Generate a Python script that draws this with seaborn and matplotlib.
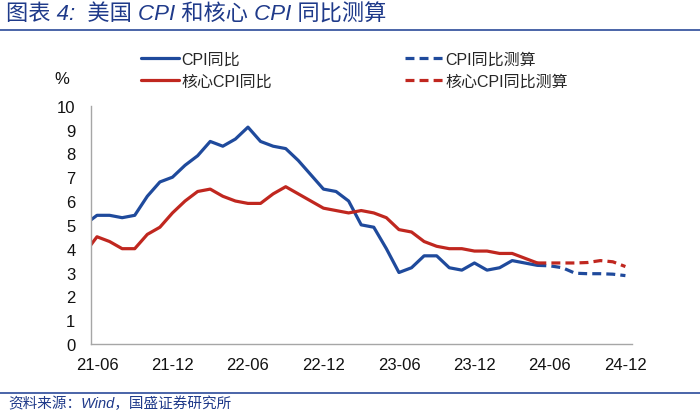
import matplotlib
matplotlib.use("Agg")
import matplotlib.pyplot as plt
from matplotlib.lines import Line2D
import seaborn as sns
import pandas as pd

# ---------------- data ----------------
actual_months = [str(p) for p in pd.period_range("2021-05", "2024-05", freq="M")]
cpi = [5.0, 5.4, 5.4, 5.3, 5.4, 6.2, 6.8, 7.0,
       7.5, 7.9, 8.5, 8.3, 8.6, 9.1, 8.5, 8.3, 8.2, 7.7, 7.1, 6.5,
       6.4, 6.0, 5.0, 4.9, 4.0, 3.0, 3.2, 3.7, 3.7, 3.2, 3.1, 3.4,
       3.1, 3.2, 3.5, 3.4, 3.3]
core = [3.8, 4.5, 4.3, 4.0, 4.0, 4.6, 4.9, 5.5,
        6.0, 6.4, 6.5, 6.2, 6.0, 5.9, 5.9, 6.3, 6.6, 6.3, 6.0, 5.7,
        5.6, 5.5, 5.6, 5.5, 5.3, 4.8, 4.7, 4.3, 4.1, 4.0, 4.0, 3.9,
        3.9, 3.8, 3.8, 3.6, 3.4]
est_months = [str(p) for p in pd.period_range("2024-05", "2024-12", freq="M")]
cpi_est = [3.3, 3.28, 3.2, 2.97, 2.95, 2.95, 2.93, 2.87]
core_est = [3.4, 3.4, 3.4, 3.4, 3.42, 3.5, 3.45, 3.25]
tick_labels = ["21-06", "21-12", "22-06", "22-12", "23-06", "23-12", "24-06", "24-12"]
y_ticks = list(range(0, 11))

title = "图表 4:  美国 CPI 和核心 CPI 同比测算"
source = "资料来源：Wind，国盛证券研究所"
labels = ["CPI同比", "核心CPI同比", "CPI同比测算", "核心CPI同比测算"]

# ---------------- style ----------------
sns.set_theme(style="white")
plt.rcParams["font.family"] = ["Liberation Sans", "Noto Sans CJK SC", "DejaVu Sans"]

BLUE = "#1f4a9c"
RED = "#c0271f"
NAVY = "#1f3a8a"
GRID = "#a6a6a6"

start = pd.Period("2021-06", freq="M")


def pos(months):
    # category axis: each month occupies one unit, point drawn at its centre
    return [(pd.Period(m, freq="M") - start).n + 0.5 for m in months]


df_act = pd.DataFrame({"x": pos(actual_months), "cpi": cpi, "core": core})
df_est = pd.DataFrame({"x": pos(est_months), "cpi": cpi_est, "core": core_est})

fig = plt.figure(figsize=(7.0, 4.14), dpi=100)
W, H = 700, 414
ax = fig.add_axes([90.7 / W, 1 - 345 / H, (631.7 - 90.7) / W, (345 - 106.7) / H])

lw = 2.3
dash = (0, (2.8, 1.6))
sns.lineplot(data=df_act, x="x", y="cpi", ax=ax, color=BLUE, lw=lw, label=labels[0])
sns.lineplot(data=df_act, x="x", y="core", ax=ax, color=RED, lw=lw, label=labels[1])
sns.lineplot(data=df_est, x="x", y="cpi", ax=ax, color=BLUE, lw=lw, ls=dash, label=labels[2])
sns.lineplot(data=df_est, x="x", y="core", ax=ax, color=RED, lw=lw, ls=dash, label=labels[3])

n_months = (pd.Period("2024-12", freq="M") - start).n + 1
ax.set_xlim(0, n_months)
ax.set_ylim(0, 10)
ax.set_xlabel("")
ax.set_ylabel("")

# major ticks at category boundaries (marks only), minor ticks at centres (labels only)
ax.set_xticks([6 * i for i in range(len(tick_labels))])
ax.set_xticklabels([])
ax.set_xticks([6 * i + 0.5 for i in range(len(tick_labels))], minor=True)
ax.set_xticklabels(tick_labels, minor=True)
ax.tick_params(axis="x", which="major", direction="in", length=4, width=1, color=GRID)
ax.tick_params(axis="x", which="minor", length=0, pad=9, labelsize=12, labelcolor="#111111")

ax.set_yticks(y_ticks)
ax.set_yticklabels([str(v) for v in y_ticks])
ax.tick_params(axis="y", direction="in", length=4, width=1, color=GRID, pad=11,
               labelsize=12, labelcolor="#111111")

for s in ["top", "right"]:
    ax.spines[s].set_visible(False)
for s in ["left", "bottom"]:
    ax.spines[s].set_color(GRID)
    ax.spines[s].set_linewidth(1)

# legends (two columns)
handles, labs = ax.get_legend_handles_labels()
ax.get_legend().remove()
leg_kw = dict(frameon=False, fontsize=11.5, handlelength=2.4, handletextpad=0.15,
              labelspacing=0.42, borderpad=0, borderaxespad=0, loc="upper left",
              bbox_transform=fig.transFigure)
leg1 = fig.legend(handles[:2], labs[:2], bbox_to_anchor=(141 / W, 1 - 53 / H), **leg_kw)
leg2 = fig.legend(handles[2:], labs[2:], bbox_to_anchor=(405 / W, 1 - 53 / H), **leg_kw)

fig.text(62 / W, 1 - 80 / H, "%", ha="center", va="center", fontsize=12, color="#111111")

# title and source
fig.text(6 / W, 1 - 15 / H, title, ha="left", va="center", fontsize=16, color=NAVY,
         style="italic")
fig.add_artist(Line2D([0, 1], [1 - 31 / H] * 2, transform=fig.transFigure, color="#2b4a9a", lw=1.2))
fig.add_artist(Line2D([0, 1], [1 - 394 / H] * 2, transform=fig.transFigure, color="#2b4a9a", lw=1.2))
fig.text(8 / W, 1 - 404 / H, source, ha="left", va="center", fontsize=10.5, color=NAVY,
         style="italic")

fig.savefig("out.png", dpi=100)
